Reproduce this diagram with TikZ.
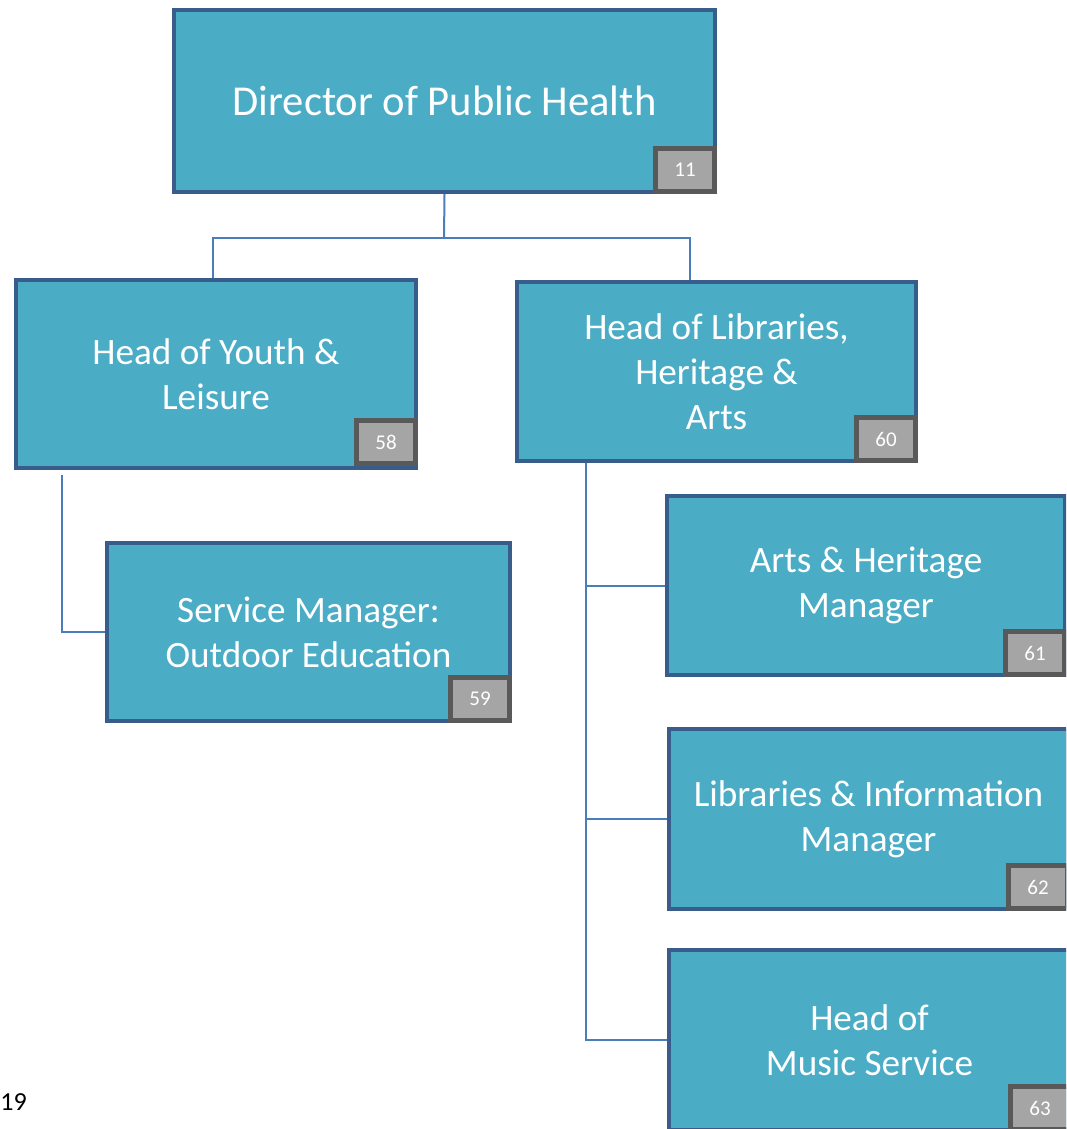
\documentclass[tikz,border=0pt]{standalone}
\usepackage{fontspec}
\setmainfont{Carlito}
\definecolor{postfill}{HTML}{4BACC6}
\definecolor{postline}{HTML}{385D8A}
\definecolor{tagfill}{HTML}{A5A5A5}
\definecolor{tagline}{HTML}{595959}
\definecolor{linkblue}{HTML}{4A7EBB}
\tikzset{
  post/.style={draw=postline, fill=postfill, line width=2pt, text=white,
    align=center, inner sep=0pt, font=\fontsize{18.6}{22.5}\selectfont},
  tag/.style={draw=tagline, fill=tagfill, line width=2.4pt, text=white,
    inner sep=0pt, minimum width=29.6pt, minimum height=21.6pt,
    anchor=south east, font=\fontsize{10.5}{12}\selectfont},
  link/.style={draw=linkblue, line width=1pt}
}

\begin{document}
\begin{tikzpicture}[x=0.5pt, y=-0.5pt]
      \clip (0,0) rectangle (1066,1129);
      % posts
      \node[post, minimum width=270.5pt, minimum height=91pt, font=\fontsize{21.3}{25}\selectfont] (dir) at (444.5,101) {Director of Public Health};
      \node[post, minimum width=200pt, minimum height=94pt] (youth) at (216,374) {Head of Youth \&\\Leisure};
      \node[post, minimum width=199.5pt, minimum height=89.5pt] (libs) at (716.5,371.5) {Head of Libraries,\\Heritage \&\\Arts};
      \node[post, minimum width=201.5pt, minimum height=89pt] (svc) at (308.5,632) {Service Manager:\\Outdoor Education};
      \node[post, minimum width=199pt, minimum height=89.5pt] (arts) at (866,585.5) {Arts \& Heritage\\Manager};
      \node[post, minimum width=199.5pt, minimum height=90pt] (info) at (868.5,819) {Libraries \& Information\\Manager};
      \node[post, minimum width=200.5pt, minimum height=90pt] (music) at (869.5,1040) {Head of\\Music Service};
      % tags
      \node[tag] (t11) at (dir.south east) {11};
      \node[tag] (t58) at ([yshift=2pt]youth.south east) {58};
      \node[tag] (t60) at (libs.south east) {60};
      \node[tag] (t59) at (svc.south east) {59};
      \node[tag] (t61) at (arts.south east) {61};
      \node[tag] (t62) at (info.south east) {62};
      \node[tag] (t63) at (music.south east) {63};
      % lines
      \coordinate (split) at (444,238);
      \draw[link] (dir.south) -- (split);
      \draw[link] (split) -| (213,0 |- youth.north);
      \draw[link] (split) -| (690,0 |- libs.north);
      \draw[link] (62,475) |- (svc.west);
      \draw[link] (586,0 |- libs.south) |- (arts.west);
      \draw[link] (586,0 |- libs.south) |- (info.west);
      \draw[link] (586,0 |- libs.south) |- (music.west);
      % page number
      \node[font=\fontsize{13}{16}\selectfont, anchor=west, inner sep=0pt] (page) at (0,1102) {19};
    \end{tikzpicture}
\end{document}
